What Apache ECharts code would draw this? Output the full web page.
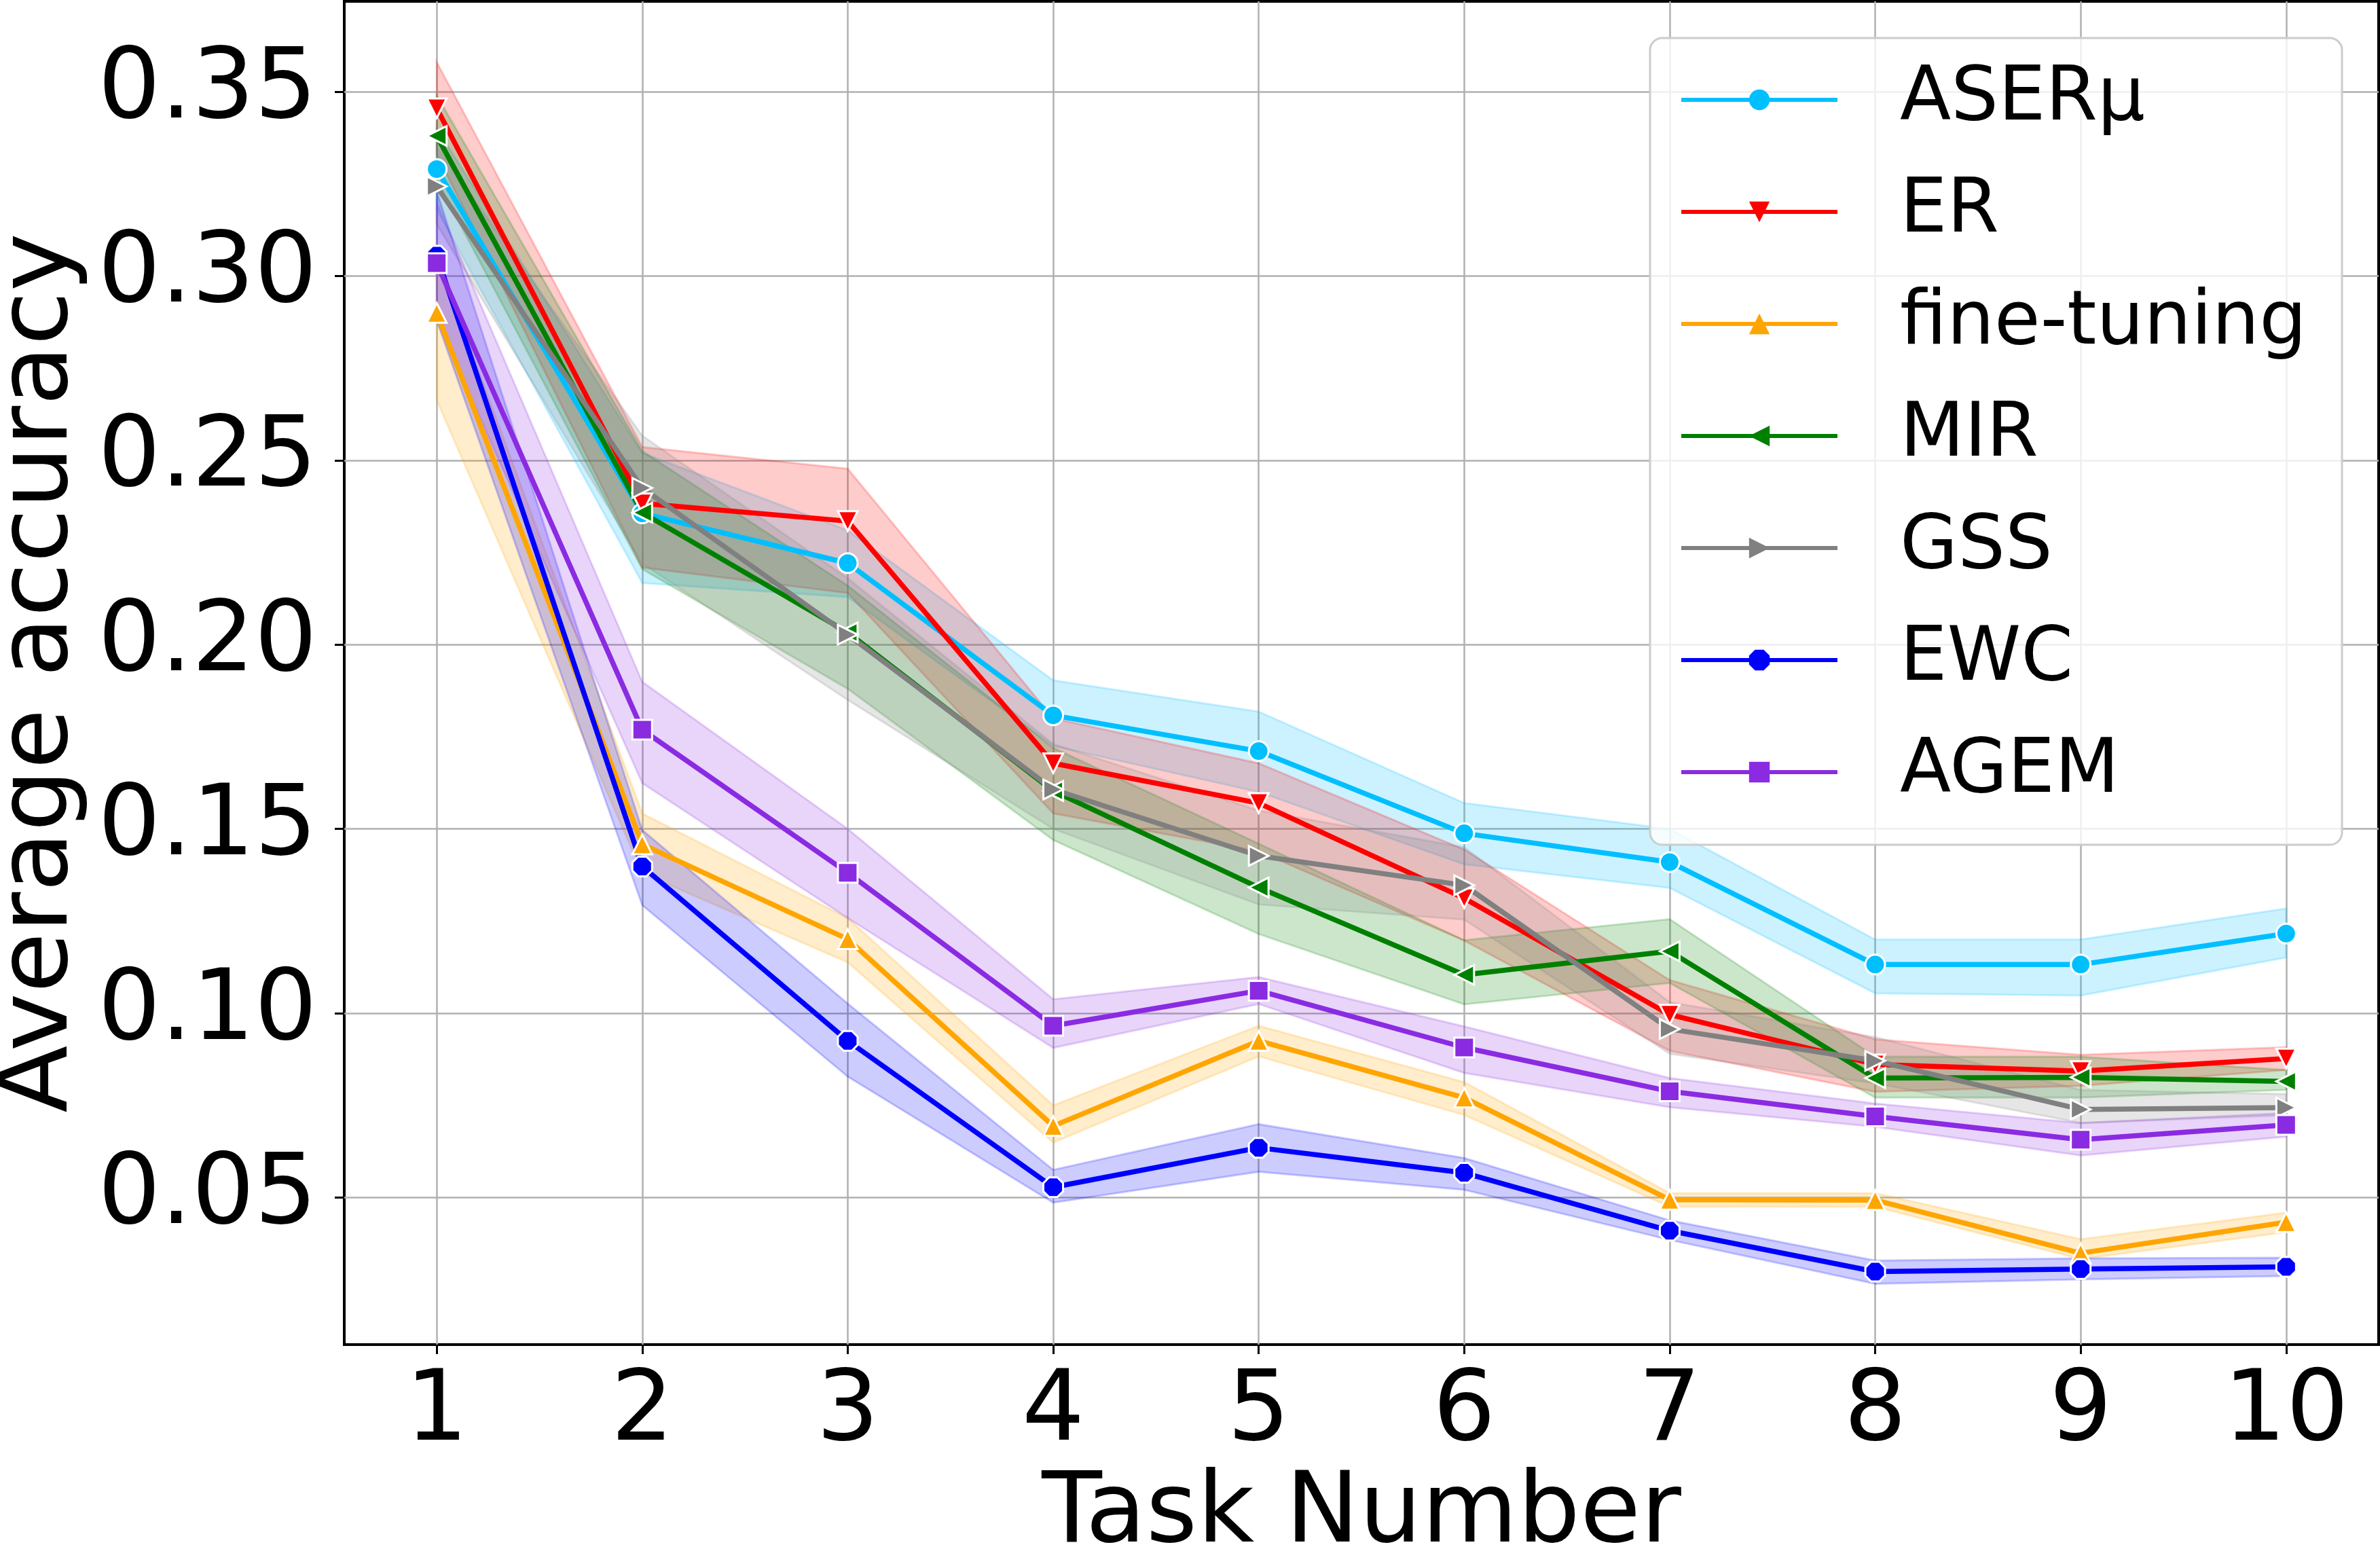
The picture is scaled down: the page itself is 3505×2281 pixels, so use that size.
<!DOCTYPE html>
<html>
<head>
<meta charset="utf-8">
<script src="https://cdn.jsdelivr.net/npm/echarts@6/dist/echarts.min.js"></script>
<style>
  html, body { margin:0; padding:0; background:#fff; }
  #chart { width:3505px; height:2281px; }
</style>
</head>
<body>
<div id="chart"></div>
<script>
// x positions and tick labels
var tasks = [1, 2, 3, 4, 5, 6, 7, 8, 9, 10];
var yTicks = [0.05, 0.10, 0.15, 0.20, 0.25, 0.30, 0.35];

// mean accuracy and the lower / upper edge of each shaded band
var aserMean = [0.329, 0.2356, 0.2221, 0.1808, 0.1711, 0.1488, 0.1410, 0.1132, 0.1132, 0.1216];
var aserLo   = [0.318, 0.2167, 0.2129, 0.1725, 0.1600, 0.1404, 0.1340, 0.1054, 0.1048, 0.1151];
var aserHi   = [0.340, 0.2520, 0.2310, 0.1903, 0.1818, 0.1570, 0.1500, 0.1200, 0.1200, 0.1284];

var erMean = [0.3455, 0.2383, 0.2335, 0.1678, 0.1570, 0.1312, 0.0996, 0.0861, 0.0843, 0.0877];
var erLo   = [0.333, 0.2209, 0.2140, 0.1542, 0.1439, 0.1197, 0.0898, 0.0787, 0.0803, 0.0846];
var erHi   = [0.358, 0.2536, 0.2477, 0.1800, 0.1678, 0.1444, 0.1090, 0.0929, 0.0887, 0.0908];

var ftMean = [0.290, 0.1458, 0.1201, 0.0694, 0.0925, 0.0771, 0.0494, 0.0493, 0.0349, 0.0433];
var ftLo   = [0.2663, 0.1380, 0.1138, 0.0649, 0.0883, 0.0724, 0.0475, 0.0475, 0.0333, 0.0406];
var ftHi   = [0.3050, 0.1542, 0.1258, 0.0750, 0.0966, 0.0813, 0.0512, 0.0512, 0.0387, 0.0459];

var mirMean = [0.338, 0.2358, 0.2033, 0.1603, 0.1341, 0.1104, 0.1168, 0.0824, 0.0826, 0.0815];
var mirLo   = [0.326, 0.2205, 0.1880, 0.1470, 0.1215, 0.1024, 0.1082, 0.0771, 0.0771, 0.0792];
var mirHi   = [0.349, 0.2525, 0.2160, 0.1720, 0.1460, 0.1198, 0.1255, 0.0882, 0.0882, 0.0846];

var gssMean = [0.3243, 0.2425, 0.2027, 0.1607, 0.1427, 0.1347, 0.0957, 0.0871, 0.0739, 0.0744];
var gssLo   = [0.314, 0.2220, 0.1850, 0.1500, 0.1295, 0.1254, 0.0890, 0.0810, 0.0702, 0.0723];
var gssHi   = [0.335, 0.2567, 0.2180, 0.1730, 0.1550, 0.1450, 0.1030, 0.0935, 0.0792, 0.0781];

var ewcMean = [0.3055, 0.1398, 0.0925, 0.0528, 0.0635, 0.0567, 0.0410, 0.0299, 0.0306, 0.0312];
var ewcLo   = [0.288, 0.1293, 0.0828, 0.0486, 0.0570, 0.0521, 0.0385, 0.0266, 0.0278, 0.0287];
var ewcHi   = [0.323, 0.1497, 0.1026, 0.0575, 0.0699, 0.0607, 0.0438, 0.0329, 0.0335, 0.0337];

var agemMean = [0.3035, 0.1769, 0.1381, 0.0966, 0.1061, 0.0907, 0.0788, 0.0720, 0.0657, 0.0697];
var agemLo   = [0.288, 0.1624, 0.1258, 0.0906, 0.1025, 0.0838, 0.0745, 0.0692, 0.0614, 0.0665];
var agemHi   = [0.320, 0.1899, 0.1500, 0.1038, 0.1098, 0.0964, 0.0824, 0.0755, 0.0702, 0.0729];

(function(){
  var el = document.getElementById('chart');
  var c = echarts.init(el);
  var font = 'DejaVu Sans';
  var gridCol = '#b0b0b0';

  var triUp = 'path://M1,0 L2,2 L0,2 Z';
  var triDown = 'path://M0,0 L2,0 L1,2 Z';
  var triLeft = 'path://M0,1 L2,0 L2,2 Z';
  var triRight = 'path://M0,0 L2,1 L0,2 Z';
  var octagon = 'path://M0.29,0 L0.71,0 L1,0.29 L1,0.71 L0.71,1 L0.29,1 L0,0.71 L0,0.29 Z';

  var methods = [
    { name:'ASERμ', color:'#00bfff', symbol:'circle', mean:aserMean, lo:aserLo, hi:aserHi },
    { name:'ER', color:'#ff0000', symbol:triDown, mean:erMean, lo:erLo, hi:erHi },
    { name:'fine-tuning', color:'#ffa500', symbol:triUp, mean:ftMean, lo:ftLo, hi:ftHi },
    { name:'MIR', color:'#008000', symbol:triLeft, mean:mirMean, lo:mirLo, hi:mirHi },
    { name:'GSS', color:'#808080', symbol:triRight, mean:gssMean, lo:gssLo, hi:gssHi },
    { name:'EWC', color:'#0000ff', symbol:octagon, mean:ewcMean, lo:ewcLo, hi:ewcHi },
    { name:'AGEM', color:'#8a2be2', symbol:'rect', mean:agemMean, lo:agemLo, hi:agemHi }
  ];

  function band(m) {
    return {
      type:'custom', name:m.name + ' band', silent:true, z:1,
      data: tasks.map(function(t, i){ return [t, m.lo[i], m.hi[i]]; }),
      encode:{ x:0, y:[1, 2] },
      renderItem:function(params, api){
        if (params.dataIndex !== 0) return;
        var pts = [];
        for (var i = 0; i < tasks.length; i++) pts.push(api.coord([tasks[i], m.hi[i]]));
        for (var j = tasks.length - 1; j >= 0; j--) pts.push(api.coord([tasks[j], m.lo[j]]));
        return { type:'polygon', shape:{ points:pts },
          style:{ fill:m.color, stroke:m.color, lineWidth:3, opacity:0.2 } };
      }
    };
  }

  function line(m) {
    return {
      type:'line', name:m.name, z:3,
      data: tasks.map(function(t, i){ return [t, m.mean[i]]; }),
      symbol:m.symbol, symbolSize:29, showAllSymbol:true,
      lineStyle:{ color:m.color, width:7.5 },
      itemStyle:{ color:m.color, borderColor:'#fff', borderWidth:3 },
      emphasis:{ disabled:true }
    };
  }

  var series = methods.map(band).concat(methods.map(line));

  c.setOption({
    animation:false,
    backgroundColor:'#fff',
    grid:{ left:507, right:2, top:2, bottom:301, containLabel:false, outerBoundsMode:'none',
      show:true, borderColor:'#000', borderWidth:4, backgroundColor:'transparent' },
    xAxis:{
      type:'value', min:0.55, max:10.45,
      name:'Task Number', nameLocation:'middle', nameGap:166,
      nameTextStyle:{ fontFamily:font, fontSize:145, color:'#000' },
      axisLine:{ show:false },
      axisTick:{ show:true, customValues:tasks, length:14, lineStyle:{ color:'#000', width:3 } },
      axisLabel:{ customValues:tasks, fontFamily:font, fontSize:145, color:'#000', margin:30 },
      splitLine:{ show:true, lineStyle:{ color:gridCol, width:2.5 } }
    },
    yAxis:{
      type:'value', min:0.0101, max:0.3745,
      name:'Average accuracy', nameLocation:'middle', nameGap:360,
      nameTextStyle:{ fontFamily:font, fontSize:145, color:'#000' },
      axisLine:{ show:false },
      axisTick:{ show:true, customValues:yTicks, length:14, lineStyle:{ color:'#000', width:3 } },
      axisLabel:{ customValues:yTicks, fontFamily:font, fontSize:145, color:'#000', margin:40,
        formatter:function(v){ return v.toFixed(2); } },
      splitLine:{ show:true, lineStyle:{ color:gridCol, width:2.5 } }
    },
    legend:{
      data:methods.map(function(m){ return m.name; }),
      orient:'vertical', left:2430, top:56,
      padding:[36, 52, 52, 43],
      itemWidth:230, itemHeight:38, itemGap:55,
      itemStyle:{ borderWidth:0 },
      lineStyle:{ width:6 },
      textStyle:{ fontFamily:font, fontSize:110, color:'#000', lineHeight:110, padding:[0, 0, 0, 87] },
      backgroundColor:'rgba(255,255,255,0.8)',
      borderColor:'#cccccc', borderWidth:3, borderRadius:18,
      selectedMode:false
    },
    series:series
  });
})();
</script>
</body>
</html>
